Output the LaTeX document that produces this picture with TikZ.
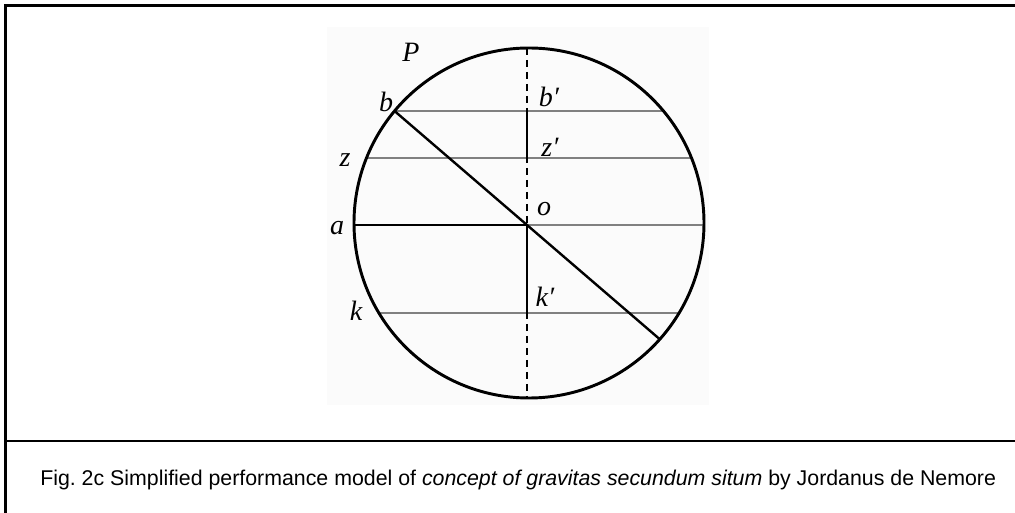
\documentclass[tikz,border=0pt]{standalone}
\usepackage{fontspec}
\setmainfont{Liberation Serif}
\newfontfamily\capfont{Liberation Sans}
\frenchspacing
\begin{document}
\begin{tikzpicture}[x=0.75pt,y=-0.75pt,
  frameline/.style={line width=1.6pt,line cap=rect},
  rim/.style={line width=2.2pt},
  chord/.style={line width=0.8pt,draw=black!50},
  axis/.style={line width=0.8pt,dash pattern=on 5.25pt off 3.75pt},
  heavy/.style={line width=2.2pt},
  diag/.style={line width=1.8pt},
  lbl/.style={font=\fontsize{21}{22}\selectfont\itshape,anchor=base,inner sep=0pt}]
\useasboundingbox (0,0) rectangle (1015,513);
% faint backdrop of the pasted figure
\coordinate (g1) at (327,27);
\coordinate (g2) at (709,405);
\fill[black!1.5] (g1) rectangle (g2);
% frame
\coordinate (fl) at (5.5,5.5);
\coordinate (fr) at (1015,5.5);
\coordinate (fb) at (5.5,513);
\coordinate (sl) at (5.5,441);
\coordinate (sr) at (1015,441);
\draw[frameline] (fb) -- (fl) -- (fr);
\draw[frameline] (sl) -- (sr);
% geometry
\coordinate (c) at (529,223);
\coordinate (top) at (527,48);
\coordinate (bot) at (527,398);
\coordinate (o) at (527,225);
\coordinate (bL) at (394.5,111); \coordinate (bR) at (663.5,111);
\coordinate (zL) at (366.5,158); \coordinate (zR) at (691.5,158);
\coordinate (aL) at (354,225);   \coordinate (aR) at (704,225);
\coordinate (kL) at (378.9,313); \coordinate (kR) at (679.1,313);
\coordinate (bp) at (527,111);
\coordinate (zp) at (527,158);
\coordinate (kp) at (527,313);
\coordinate (dE) at (659.5,339);
% chords
\draw[chord] (bL) -- (bR);
\draw[chord] (zL) -- (zR);
\draw[chord] (o) -- (aR);
\draw[chord] (kL) -- (kR);
% dashed axis
\draw[axis] (top) -- (bot);
% heavy segments
\draw[heavy] (aL) -- (o);
\draw[heavy] (bp) -- (zp);
\draw[heavy] (o) -- (kp);
\draw[diag] (bL) -- (dE);
% circle
\draw[rim] (c) circle[radius=131.25pt];
% labels
\node[lbl] (P) at (411,62) {P};
\node[lbl] (b) at (386,112) {b};
\node[lbl] (z) at (345,167) {z};
\node[lbl] (a) at (337,235) {a};
\node[lbl] (k) at (356,321) {k};
\node[lbl] (ol) at (544,216) {o};
\node[lbl] (bpl) at (549,107) {b′};
\node[lbl] (zpl) at (550,157) {z′};
\node[lbl] (kpl) at (545,307) {k′};
% caption
\node[anchor=base west,inner sep=0pt,font=\capfont\fontsize{16}{18}\selectfont] (cap) at (40,485)
  {Fig. 2c Simplified performance model of \textit{concept of gravitas secundum situm} by Jordanus de Nemore};
\end{tikzpicture}
\end{document}
